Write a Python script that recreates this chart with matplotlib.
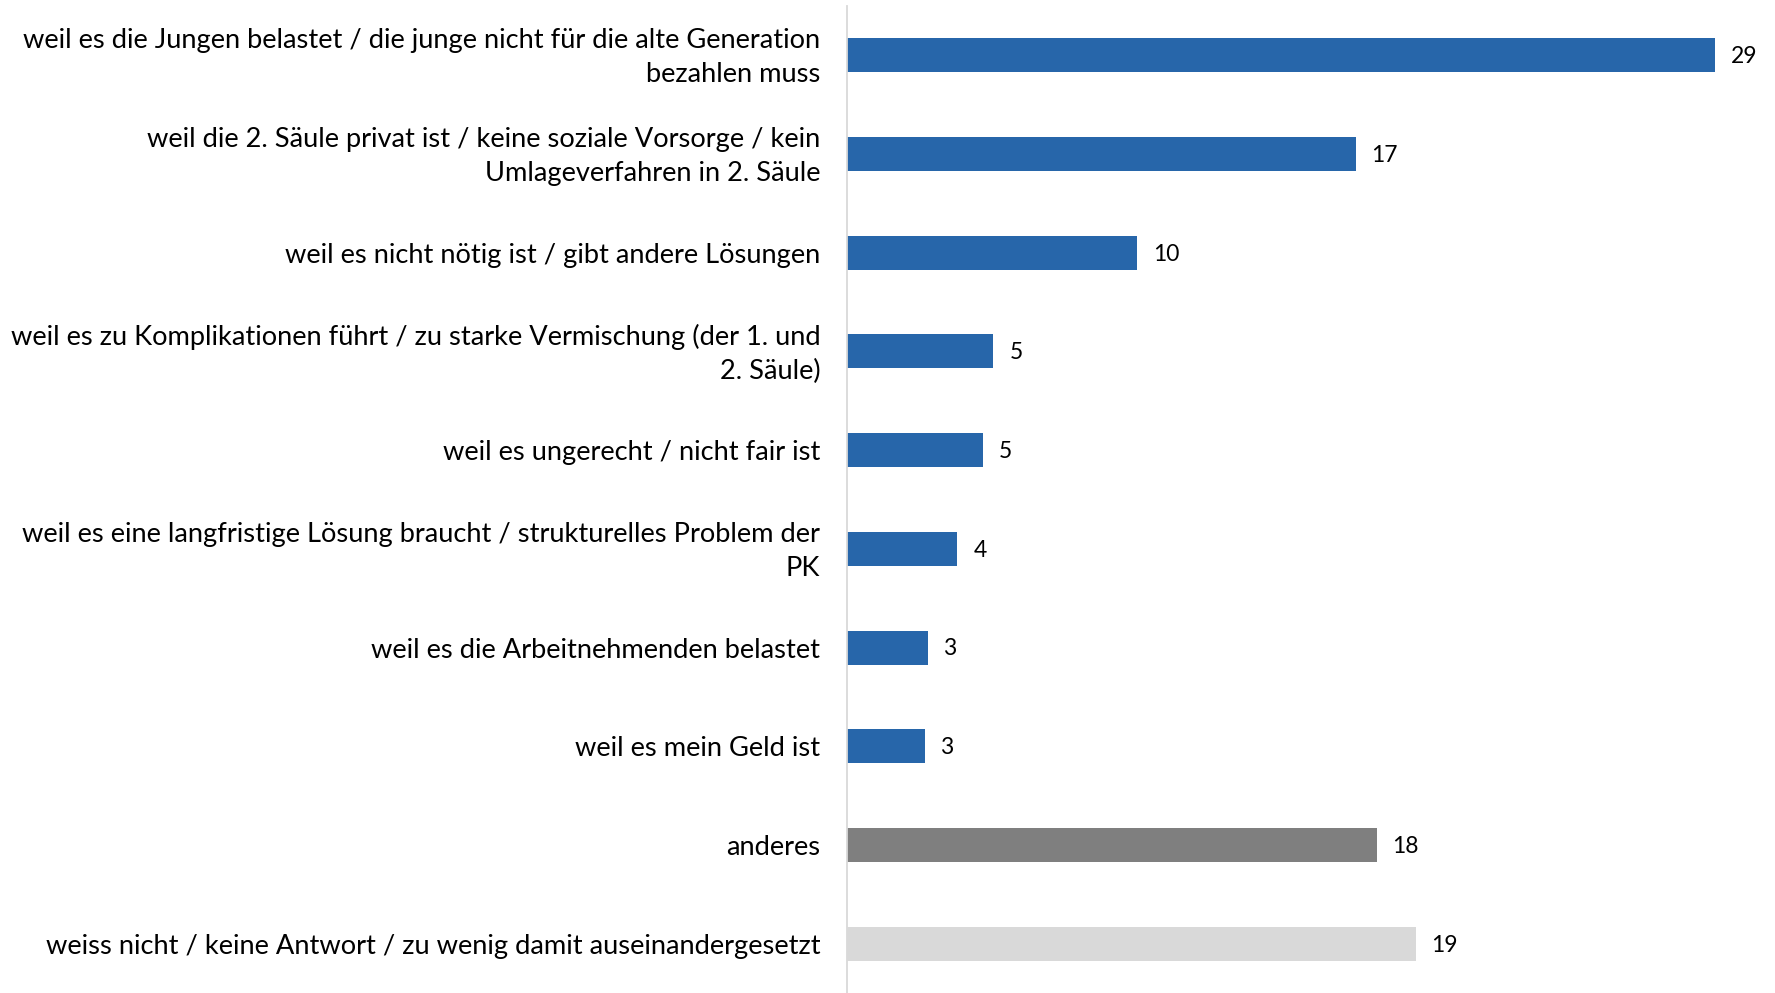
import matplotlib
matplotlib.use("Agg")
import matplotlib.pyplot as plt
import matplotlib.transforms as mtransforms

plt.rcParams["font.family"] = ["Lato", "DejaVu Sans"]

categories = [
    "weil es die Jungen belastet / die junge nicht für die alte Generation\nbezahlen muss",
    "weil die 2. Säule privat ist / keine soziale Vorsorge / kein\nUmlageverfahren in 2. Säule",
    "weil es nicht nötig ist / gibt andere Lösungen",
    "weil es zu Komplikationen führt / zu starke Vermischung (der 1. und\n2. Säule)",
    "weil es ungerecht / nicht fair ist",
    "weil es eine langfristige Lösung braucht / strukturelles Problem der\nPK",
    "weil es die Arbeitnehmenden belastet",
    "weil es mein Geld ist",
    "anderes",
    "weiss nicht / keine Antwort / zu wenig damit auseinandergesetzt",
]
values = [29.0, 17.0, 9.7, 4.9, 4.55, 3.7, 2.7, 2.6, 17.7, 19.0]
bar_colors = ["#2766aa"] * 8 + ["#7f7f7f", "#d9d9d9"]

fig = plt.figure(figsize=(17.75, 9.93), dpi=100)
ax = fig.add_axes([0.477, 0.0, 0.506, 0.994])

ypos = list(range(len(categories)))
ax.barh(ypos, values, height=0.345, color=bar_colors, edgecolor="none")
ax.set_ylim(len(categories) - 0.5, -0.5)
ax.set_xlim(0, 30)

for y, v in zip(ypos, values):
    ax.annotate(f"{int(v + 0.5)}", xy=(v, y), xytext=(11.5, -1),
                textcoords="offset points", va="center", ha="left",
                fontsize=16.5, color="black", annotation_clip=False)

ax.set_yticks(ypos)
ax.set_yticklabels(categories, fontsize=19.6, linespacing=1.45, ha="right")
ax.tick_params(axis="y", length=0, pad=19)
ax.set_xticks([])

# two-line labels sit a little low with center_baseline alignment; nudge them up
lift = mtransforms.ScaledTranslation(0, 3.4 / 72, fig.dpi_scale_trans)
for lbl in ax.get_yticklabels():
    if "\n" in lbl.get_text():
        lbl.set_transform(lbl.get_transform() + lift)

for side in ("top", "right", "bottom"):
    ax.spines[side].set_visible(False)
ax.spines["left"].set_color("#d9d9d9")
ax.spines["left"].set_linewidth(1.3)

fig.savefig("out.png", dpi=100, facecolor="white")
